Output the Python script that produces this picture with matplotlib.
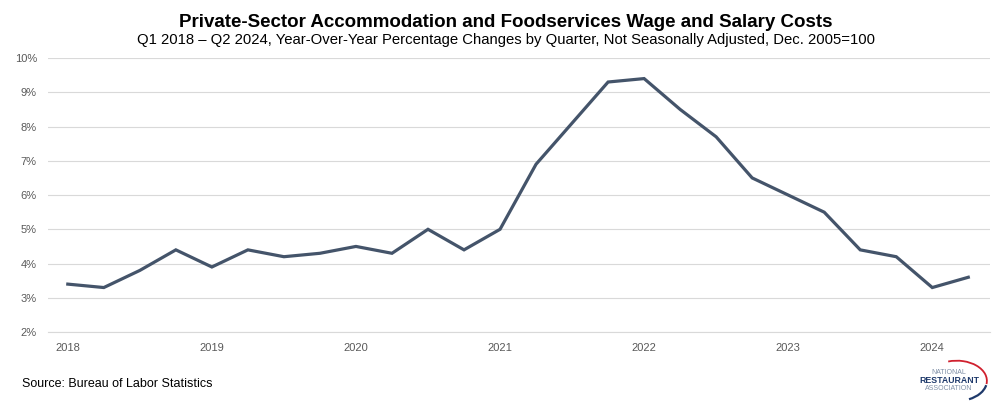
import matplotlib.pyplot as plt
from matplotlib.patches import Arc
from matplotlib.ticker import FuncFormatter

# Q1 2018 .. Q2 2024, year-over-year % change
quarters = [f"Q{q} {y}" for y in range(2018, 2025) for q in range(1, 5)][:26]
wage_growth = [3.4, 3.3, 3.8, 4.4, 3.9, 4.4, 4.2, 4.3, 4.5, 4.3, 5.0, 4.4, 5.0,
               6.9, 8.1, 9.3, 9.4, 8.5, 7.7, 6.5, 6.0, 5.5, 4.4, 4.2, 3.3, 3.6]
year_labels = ["2018", "2019", "2020", "2021", "2022", "2023", "2024"]

TEXT_GREY = '#595959'
LINE_COLOR = '#44546A'

plt.rcParams['font.family'] = ['Liberation Sans', 'DejaVu Sans']

fig = plt.figure(figsize=(10.06, 4.03), dpi=100)
ax = fig.add_axes([0.0477, 0.176, 0.9363, 0.68])

x = list(range(len(wage_growth)))
ax.plot(x, wage_growth, color=LINE_COLOR, linewidth=2.3, solid_joinstyle='miter')

ax.set_xlim(-0.55, 25.6)
ax.set_ylim(2, 10)
ax.set_yticks(range(2, 11))
ax.yaxis.set_major_formatter(FuncFormatter(lambda v, _: f"{int(v)}%"))
ax.set_xticks([4 * i for i in range(len(year_labels))])
ax.set_xticklabels(year_labels)
ax.tick_params(axis='both', length=0, labelsize=8, labelcolor=TEXT_GREY)
ax.tick_params(axis='x', pad=8)
ax.tick_params(axis='y', pad=8)
ax.grid(axis='y', color='#D9D9D9', linewidth=0.8)
for side in ['top', 'right', 'left']:
    ax.spines[side].set_visible(False)
ax.spines['bottom'].set_color('#D9D9D9')
ax.spines['bottom'].set_linewidth(0.8)

fig.text(0.503, 0.945, "Private-Sector Accommodation and Foodservices Wage and Salary Costs",
         ha='center', va='center', fontsize=13.5, fontweight='bold', color='black')
fig.text(0.503, 0.9, "Q1 2018 \u2013 Q2 2024, Year-Over-Year Percentage Changes by Quarter, "
         "Not Seasonally Adjusted, Dec. 2005=100",
         ha='center', va='center', fontsize=10.7, color='black')
fig.text(0.022, 0.048, "Source: Bureau of Labor Statistics", ha='left', va='center',
         fontsize=9, color='black')

# rough logo
fig.text(0.943, 0.075, "NATIONAL", ha='center', va='center', fontsize=5, color='#7F8FA6')
fig.text(0.944, 0.055, "RESTAURANT", ha='center', va='center', fontsize=6.3,
         fontweight='bold', color='#1F3A6B')
fig.text(0.943, 0.036, "ASSOCIATION", ha='center', va='center', fontsize=5, color='#7F8FA6')
fig.patches.append(Arc((0.951, 0.055), 0.06, 0.1, theta1=-15, theta2=100,
                       transform=fig.transFigure, color='#D0202E', linewidth=1.3))
fig.patches.append(Arc((0.951, 0.055), 0.06, 0.1, theta1=-75, theta2=-20,
                       transform=fig.transFigure, color='#1F3A6B', linewidth=1.6))

fig.savefig('out.png', dpi=100)
